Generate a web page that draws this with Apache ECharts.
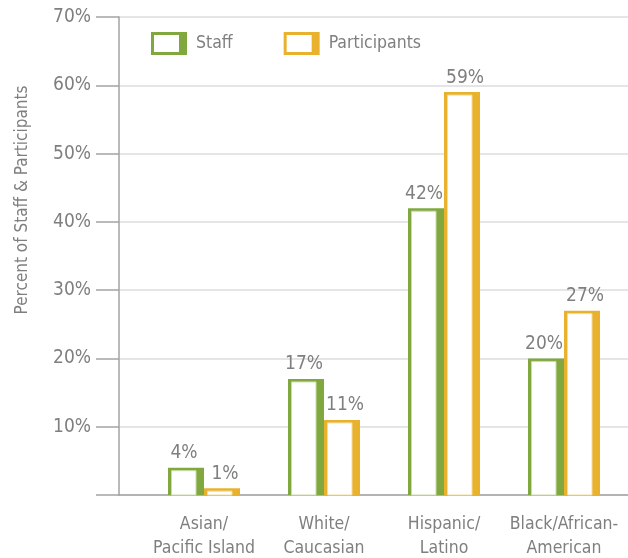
<!DOCTYPE html>
<html>
<head>
<meta charset="utf-8">
<script src="https://cdn.jsdelivr.net/npm/echarts@6/dist/echarts.min.js"></script>
<style>
  html, body { margin: 0; padding: 0; background: #fff; }
  #chart { width: 628px; height: 558px; }
</style>
</head>
<body>
<div id="chart"></div>
<script>
// Race / ethnicity breakdown, percent of staff vs. participants
const categories = ['Asian/\nPacific Island', 'White/\nCaucasian', 'Hispanic/\nLatino', 'Black/African-\nAmerican'];
const staffValues = [4, 17, 42, 20];
const participantValues = [1, 11, 59, 27];
const yTicks = [0, 10, 20, 30, 40, 50, 60, 70];
const yTitle = 'Percent of Staff & Participants';

const FONT = '"DejaVu Sans Condensed", "DejaVu Sans", sans-serif';
const TEXT = '#7f7f7f';
const AXIS = '#a3a3a3';
const GRIDLINE = '#dcdcdc';
const GREEN = '#80a83f';
const GREEN_TINT = '#cadcab';
const GOLD = '#e8b22f';
const GOLD_TINT = '#f5dc98';
const BAR_W = 36;
const Y_MIN = yTicks[0];
const Y_MAX = yTicks[yTicks.length - 1];

// Outline bar with a heavy right edge; side 0 sits left of the category centre, side 1 right
function outlinedBar(side, color, tint) {
  return function (params, api) {
    const cat = api.value(0);
    const v = api.value(1);
    const base = api.coord([cat, 0]);
    const top = api.coord([cat, v]);
    const x0 = side === 0 ? base[0] - BAR_W : base[0];
    const h = base[1] - top[1];
    const labelShift = side === 0 ? -2 : 3;
    return {
      type: 'group',
      children: [
        { type: 'rect', shape: { x: x0, y: top[1], width: BAR_W, height: h }, style: { fill: color } },
        { type: 'rect', shape: { x: x0 + 3.5, y: top[1] + 3, width: BAR_W - 3.5 - 8, height: Math.max(h - 3, 0) },
          style: { fill: '#fff', stroke: tint, lineWidth: 1 } },
        { type: 'text', style: { text: v + '%', x: x0 + BAR_W / 2 + labelShift, y: top[1] - 5,
            align: 'center', verticalAlign: 'bottom', fill: TEXT, font: '19px ' + FONT } }
      ]
    };
  };
}

const legendIcon = 'path://M0,0L36,0L36,23L0,23Z M3,3L3,20L28,20L28,3Z';

const chart = echarts.init(document.getElementById('chart'));
chart.setOption({
  animation: false,
  backgroundColor: '#fff',
  textStyle: { fontFamily: FONT },
  grid: [
    { left: 119, right: 0, top: 17, bottom: 63, outerBoundsMode: 'none' },   // plot frame with gridlines
    { left: 96, width: 23, top: 17, bottom: 63, outerBoundsMode: 'none' },   // outward tick strip + labels
    { left: 144, right: 4, top: 17, bottom: 63, outerBoundsMode: 'none' }    // bars
  ],
  legend: {
    left: 151, top: 32, padding: 0,
    itemWidth: 36, itemHeight: 23, itemGap: 51,
    textStyle: { color: TEXT, fontSize: 17.5, fontFamily: FONT, padding: [0, 0, 0, 4] },
    data: [
      { name: 'Staff', icon: legendIcon, itemStyle: { color: GREEN } },
      { name: 'Participants', icon: legendIcon, itemStyle: { color: GOLD } }
    ]
  },
  xAxis: [
    {
      gridIndex: 0, type: 'value', min: 0, max: 1,
      axisLine: { show: true, lineStyle: { color: AXIS, width: 1.5 } },
      axisTick: { show: false }, axisLabel: { show: false }, splitLine: { show: false }
    },
    {
      gridIndex: 1, type: 'value', min: 0, max: 1, show: false
    },
    {
      gridIndex: 2, type: 'category', data: categories,
      axisLine: { show: false }, axisTick: { show: false },
      axisLabel: { interval: 0, color: TEXT, fontSize: 17.5, lineHeight: 24, margin: 17, fontFamily: FONT }
    }
  ],
  yAxis: [
    {
      gridIndex: 0, type: 'value', min: Y_MIN, max: Y_MAX, interval: 10,
      axisLine: { show: true, lineStyle: { color: AXIS, width: 1.5 } },
      axisTick: { show: false }, axisLabel: { show: false },
      splitLine: { show: true, lineStyle: { color: GRIDLINE, width: 1.5 } }
    },
    {
      gridIndex: 1, type: 'value', min: Y_MIN, max: Y_MAX, interval: 10,
      axisLine: { show: false }, axisTick: { show: false },
      axisLabel: { formatter: '{value}%', color: TEXT, fontSize: 19, margin: 5, fontFamily: FONT,
        showMinLabel: false },
      splitLine: { show: true, lineStyle: { color: AXIS, width: 1.5 } }
    },
    {
      gridIndex: 2, type: 'value', min: Y_MIN, max: Y_MAX, show: false
    }
  ],
  graphic: [
    {
      type: 'text', x: 23, y: 200, rotation: Math.PI / 2,
      style: { text: yTitle, fill: TEXT, font: '17px ' + FONT, align: 'center', verticalAlign: 'middle' }
    }
  ],
  series: [
    {
      name: 'Staff', type: 'custom', xAxisIndex: 2, yAxisIndex: 2,
      itemStyle: { color: GREEN },
      renderItem: outlinedBar(0, GREEN, GREEN_TINT),
      data: staffValues.map((v, i) => [i, v])
    },
    {
      name: 'Participants', type: 'custom', xAxisIndex: 2, yAxisIndex: 2,
      itemStyle: { color: GOLD },
      renderItem: outlinedBar(1, GOLD, GOLD_TINT),
      data: participantValues.map((v, i) => [i, v])
    }
  ]
});
</script>
</body>
</html>
